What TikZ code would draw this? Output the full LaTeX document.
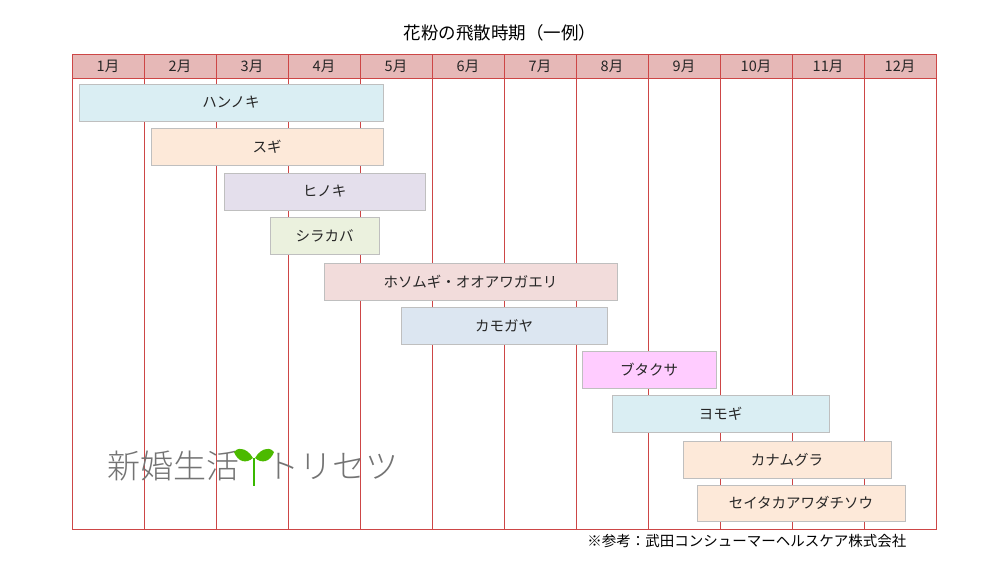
\documentclass[tikz,border=0pt]{standalone}
\usepackage{fontspec}
\newfontfamily\cjk{Noto Sans CJK JP}
\newfontfamily\cjkl{Noto Sans CJK JP Light}
\begin{document}
\begin{tikzpicture}[x=1pt,y=-1pt,
  grid/.style={draw={rgb,255:red,205;green,70;blue,70}, line width=0.8pt},
  bar/.style={draw=black!25, line width=0.8pt},
  lbl/.style={font=\cjk\fontsize{14.5}{16}\selectfont, text=black!85}]
\useasboundingbox[fill=white] (0,0) rectangle (1004,566);
\node[font=\cjk\fontsize{17.5}{19}\selectfont] (title) at (500,33) {花粉の飛散時期（一例）};
\fill[fill={rgb,255:red,230;green,184;blue,183}] (72,54) rectangle (936,78);
\draw[grid] (72,54) rectangle (936,529);
\draw[grid] (72,78) -- (936,78);
\foreach \i in {1,...,11} \draw[grid] (72+72*\i,54) -- (72+72*\i,529);
\foreach \i in {1,...,12} \node[lbl] (m\i) at (36+72*\i,66) {\i 月};
\def\bar#1#2#3#4#5#6#7{\filldraw[bar, fill={rgb,255:#7}] (#2,#4) rectangle (#3,#5);
  \node[lbl] (#1) at ({(#2+#3)/2},{(#4+#5)/2}) {#6};}
\bar{a}{79}{383}{84}{121}{ハンノキ}{red,218;green,238;blue,243}
\bar{b}{151}{383}{128}{165}{スギ}{red,253;green,233;blue,217}
\bar{c}{224}{425}{173}{210}{ヒノキ}{red,228;green,223;blue,236}
\bar{d}{270}{379}{217}{254}{シラカバ}{red,235;green,241;blue,222}
\bar{e}{324}{617}{263}{300}{ホソムギ・オオアワガエリ}{red,242;green,220;blue,219}
\bar{f}{401}{607}{307}{344}{カモガヤ}{red,220;green,230;blue,241}
\bar{g}{582}{716}{351}{388}{ブタクサ}{red,255;green,204;blue,255}
\bar{h}{612}{829}{395}{432}{ヨモギ}{red,218;green,238;blue,243}
\bar{i}{683}{891}{441}{478}{カナムグラ}{red,253;green,233;blue,217}
\bar{j}{697}{905}{485}{521}{セイタカアワダチソウ}{red,253;green,233;blue,217}
\node[font=\cjkl\fontsize{33}{36}\selectfont, text=black!55, anchor=west, inner sep=0pt] (logo1) at (107,466) {新婚生活};
\node[font=\cjkl\fontsize{33}{36}\selectfont, text=black!55, anchor=west, inner sep=0pt] (logo2) at (266,466) {トリセツ};
\draw[green!60!black!70!lime, line width=1.5pt] (254,458) -- (254,486);
\fill[green!55!black!60!lime] (253,458) .. controls (246,446) and (236,448) .. (234,452) .. controls (238,462) and (246,464) .. (253,458);
\fill[green!55!black!60!lime] (255,458) .. controls (262,446) and (272,448) .. (274,452) .. controls (270,462) and (262,464) .. (255,458);
\node[font=\cjk\fontsize{14.5}{16}\selectfont, anchor=east] (note) at (910,541) {※参考：武田コンシューマーヘルスケア株式会社};
\end{tikzpicture}
\end{document}
